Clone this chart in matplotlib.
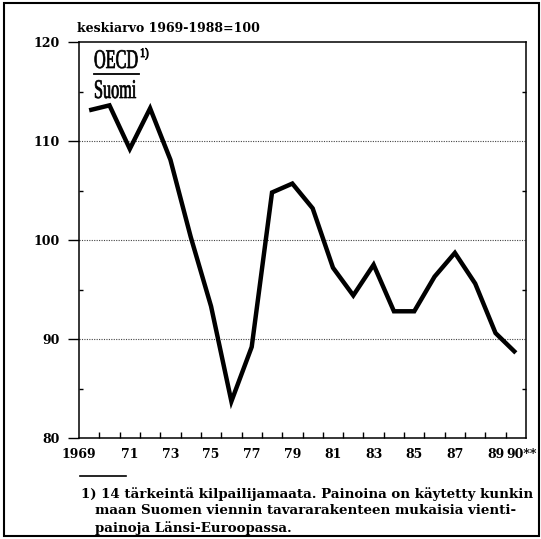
import matplotlib
matplotlib.use("Agg")
import matplotlib.pyplot as plt
from matplotlib.patches import PathPatch, Rectangle
from matplotlib.textpath import TextPath
from matplotlib.font_manager import FontProperties
from matplotlib.transforms import Affine2D
from matplotlib.lines import Line2D

### data: OECD / Suomi, keskiarvo 1969-1988=100

years = list(range(1969, 1991))
index = [113.1, 113.6, 109.2, 113.3, 108.1, 100.3, 93.3, 83.7, 89.2, 104.8, 105.7,
         103.2, 97.2, 94.4, 97.5, 92.8, 92.8, 96.3, 98.7, 95.6, 90.6, 88.6]

xlabel_years = [1968.5, 1971, 1973, 1975, 1977, 1979, 1981, 1983, 1985, 1987, 1989]
xlabel_text = ["1969", "71", "73", "75", "77", "79", "81", "83", "85", "87", "89"]
ymajor = [80, 90, 100, 110, 120]
yminor = [85, 95, 105, 115]

title = "keskiarvo 1969-1988=100"
footnote = ["1) 14 tärkeintä kilpailijamaata. Painoina on käytetty kunkin",
            "maan Suomen viennin tavararakenteen mukaisia vienti-",
            "painoja Länsi-Euroopassa."]

W, H = 541, 539
bold = dict(family="DejaVu Serif", weight="bold")
fs = 9

fig = plt.figure(figsize=(W / 100, H / 100), dpi=100)
ax = fig.add_axes([79 / W, 1 - 438 / H, (526 - 79) / W, (438 - 42) / H])

ax.plot(years, index, color="black", lw=3.2, solid_joinstyle="miter", solid_capstyle="butt")

ax.set_xlim(1968.5, 1990.5)
ax.set_ylim(80, 120)

for v in [90, 100, 110]:
    ax.axhline(v, color="#444444", lw=0.8, ls=(0, (1, 1.2)), zorder=0)

for s in ax.spines.values():
    s.set_linewidth(1.1)

ax.set_yticks(ymajor)
ax.set_yticklabels([str(v) for v in ymajor], fontdict=bold, fontsize=fs)
ax.set_yticks(yminor, minor=True)
ax.tick_params(axis="y", which="major", direction="out", length=8, width=1, pad=6)
ax.tick_params(axis="y", which="minor", direction="in", length=3, width=1, right=True)

ax.set_xticks(xlabel_years)
ax.set_xticklabels(xlabel_text, fontdict=bold, fontsize=fs)
ax.set_xticks([y + 0.5 for y in years[:-1]], minor=True)
ax.tick_params(axis="x", which="major", length=0, pad=7)
ax.tick_params(axis="x", which="minor", direction="in", length=4, width=1)
ax.text(1989.55, -0.025, "90**", transform=ax.get_xaxis_transform(), ha="left", va="top",
        fontsize=fs, **bold)

fig.text(77 / W, 1 - 29 / H, title, ha="left", va="center", fontsize=fs, **bold)

# narrow serif label OECD/Suomi drawn as scaled text paths (pixel coords)
serif = FontProperties(family="Liberation Serif")

def narrow(s, x, y_base, size, sx, lw=0.5):
    p = TextPath((0, 0), s, size=size, prop=serif)
    tr = Affine2D().scale(sx, 1).translate(x, H - y_base)
    fig.add_artist(PathPatch(p, transform=tr, color="black", lw=lw))

narrow("OECD", 94, 68, 27, 0.6)
narrow("Suomi", 94, 98, 27, 0.6)
narrow("1)", 140, 57, 13, 0.8, lw=0.6)
fig.add_artist(Line2D([94 / W, 139 / W], [1 - 74 / H, 1 - 74 / H], color="black", lw=1.3))

# footnote
fig.add_artist(Line2D([80 / W, 126 / W], [1 - 476 / H, 1 - 476 / H], color="black", lw=1.2))
fig.text(81 / W, 1 - 494 / H, footnote[0], ha="left", va="center", fontsize=9.6, **bold)
fig.text(95 / W, 1 - 511 / H, footnote[1], ha="left", va="center", fontsize=9.6, **bold)
fig.text(95 / W, 1 - 528 / H, footnote[2], ha="left", va="center", fontsize=9.6, **bold)

# outer frame
fig.patches.append(Rectangle((4 / W, 3 / H), 535 / W, 533 / H, transform=fig.transFigure,
                             fill=False, lw=1.5, ec="black"))

fig.savefig("out.png", dpi=100)
